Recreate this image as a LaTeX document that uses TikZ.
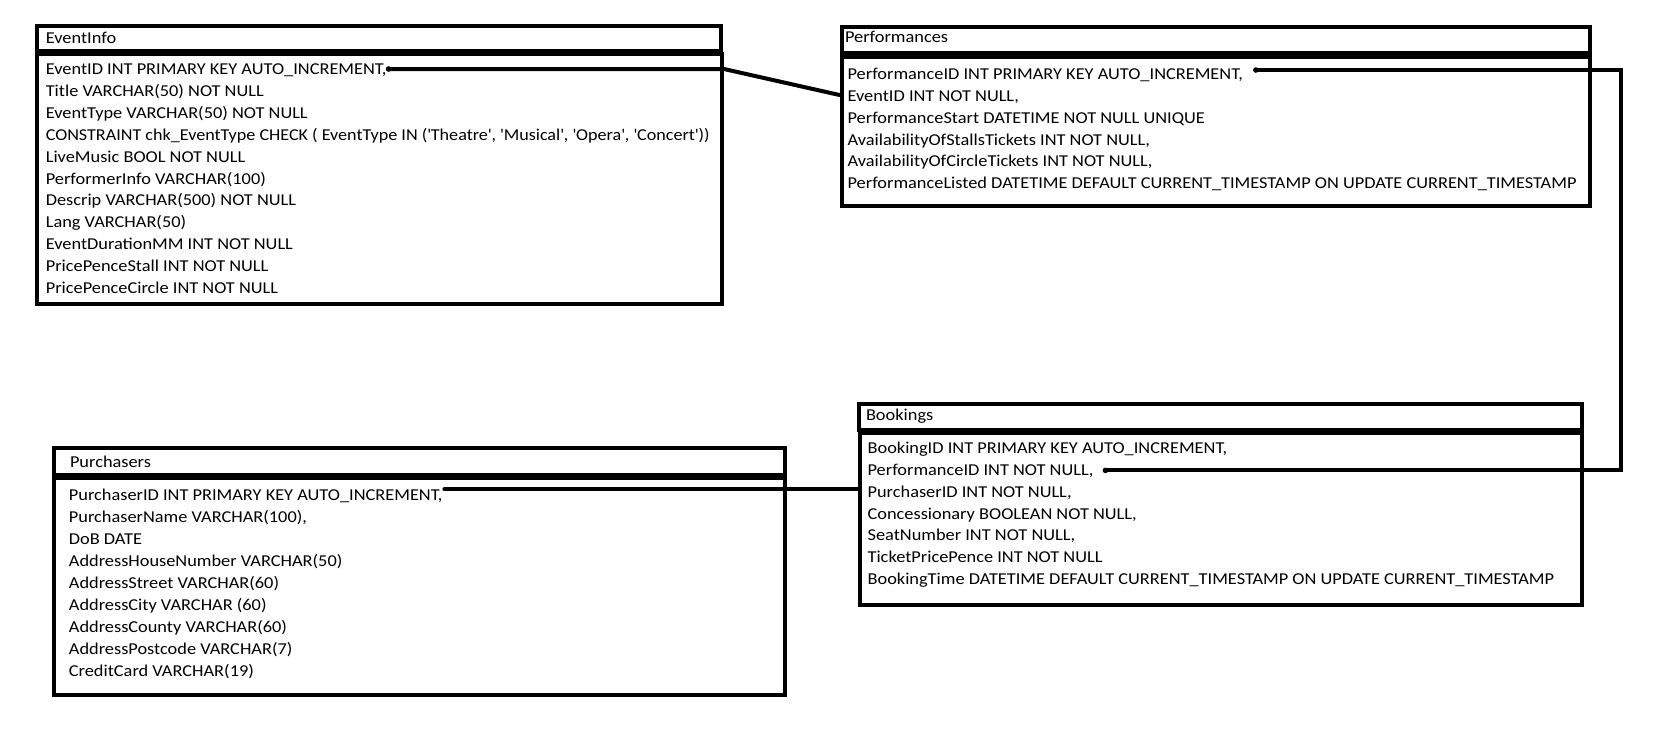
\documentclass[tikz,border=0pt]{standalone}
\usepackage{graphicx}
\usepackage{fontspec}
\setmainfont[FakeStretch=1.105]{Carlito}
\usetikzlibrary{calc}
\begin{document}
\begin{tikzpicture}[x=1pt,y=-1pt,
  tbox/.style={draw=black, line width=4pt, rectangle, inner sep=0pt},
  row/.style={anchor=base west, inner sep=0pt, outer sep=0pt, font=\fontsize{16.6}{20}\selectfont},
  conn/.style={draw=black, line width=4pt, line cap=round, line join=miter}]
\useasboundingbox (0,0) rectangle (1656,740);
% ---- EventInfo
\node[tbox, minimum width=684pt, minimum height=25pt] (eih) at (379,38.5) {};
\node[tbox, minimum width=685pt, minimum height=250pt] (eib) at (379.5,179) {};
\node[row] (eit) at (45.8,43) {EventInfo};
\node[row] (ei1) at (45.8,74.3) {EventID INT PRIMARY KEY AUTO\_INCREMENT,};
\node[row] (ei2) at (45.8,96.2) {Title VARCHAR(50) NOT NULL};
\node[row] (ei3) at (45.8,118.2) {EventType VARCHAR(50) NOT NULL};
\node[row] (ei4) at (45.8,140.1) {\scalebox{0.987}[1]{CONSTRAINT chk\_EventType CHECK ( EventType IN (\textquotesingle Theatre\textquotesingle, \textquotesingle Musical\textquotesingle, \textquotesingle Opera\textquotesingle, \textquotesingle Concert\textquotesingle))}};
\node[row] (ei5) at (45.8,162.0) {LiveMusic BOOL NOT NULL};
\node[row] (ei6) at (45.8,184.0) {PerformerInfo VARCHAR(100)};
\node[row] (ei7) at (45.8,205.9) {Descrip VARCHAR(500) NOT NULL};
\node[row] (ei8) at (45.8,227.8) {Lang VARCHAR(50)};
\node[row] (ei9) at (45.8,249.7) {EventDurationMM INT NOT NULL};
\node[row] (ei10) at (45.8,271.7) {PricePenceStall INT NOT NULL};
\node[row] (ei11) at (45.8,293.6) {PricePenceCircle INT NOT NULL};
% ---- Performances
\node[tbox, minimum width=748.5pt, minimum height=26pt] (pfh) at (1215.75,40) {};
\node[tbox, minimum width=748.5pt, minimum height=149pt] (pfb) at (1215.75,131.5) {};
\node[row] (pft) at (845,42) {Performances};
\node[row] (pf1) at (847.6,79.3) {PerformanceID INT PRIMARY KEY AUTO\_INCREMENT,};
\node[row] (pf2) at (847.6,101.2) {EventID INT NOT NULL,};
\node[row] (pf3) at (847.6,123.1) {PerformanceStart DATETIME NOT NULL UNIQUE};
\node[row] (pf4) at (847.6,145.0) {AvailabilityOfStallsTickets INT NOT NULL,};
\node[row] (pf5) at (847.6,166.9) {AvailabilityOfCircleTickets INT NOT NULL,};
\node[row] (pf6) at (847.6,188.8) {PerformanceListed DATETIME DEFAULT CURRENT\_TIMESTAMP ON UPDATE CURRENT\_TIMESTAMP};
% ---- Bookings
\node[tbox, minimum width=723pt, minimum height=26pt] (bkh) at (1220.5,417) {};
\node[tbox, minimum width=722pt, minimum height=172pt] (bkb) at (1221,519) {};
\node[row] (bkt) at (866,420.3) {Bookings};
\node[row] (bk1) at (867.6,453.6) {BookingID INT PRIMARY KEY AUTO\_INCREMENT,};
\node[row] (bk2) at (867.6,475.4) {PerformanceID INT NOT NULL,};
\node[row] (bk3) at (867.6,497.3) {PurchaserID INT NOT NULL,};
\node[row] (bk4) at (867.6,519.1) {Concessionary BOOLEAN NOT NULL,};
\node[row] (bk5) at (867.6,540.9) {SeatNumber INT NOT NULL,};
\node[row] (bk6) at (867.6,562.8) {TicketPricePence INT NOT NULL};
\node[row] (bk7) at (867.6,584.6) {BookingTime DATETIME DEFAULT CURRENT\_TIMESTAMP ON UPDATE CURRENT\_TIMESTAMP};
% ---- Purchasers
\node[tbox, minimum width=731pt, minimum height=27pt] (puh) at (419.5,461.5) {};
\node[tbox, minimum width=731pt, minimum height=217pt] (pub) at (419.5,586.5) {};
\node[row] (put) at (70,467.3) {Purchasers};
\node[row] (pu1) at (68.9,500.3) {PurchaserID INT PRIMARY KEY AUTO\_INCREMENT,};
\node[row] (pu2) at (68.9,522.3) {PurchaserName VARCHAR(100),};
\node[row] (pu3) at (68.9,544.2) {DoB DATE};
\node[row] (pu4) at (68.9,566.2) {AddressHouseNumber VARCHAR(50)};
\node[row] (pu5) at (68.9,588.1) {AddressStreet VARCHAR(60)};
\node[row] (pu6) at (68.9,610.1) {AddressCity VARCHAR (60)};
\node[row] (pu7) at (68.9,632.1) {AddressCounty VARCHAR(60)};
\node[row] (pu8) at (68.9,654.0) {AddressPostcode VARCHAR(7)};
\node[row] (pu9) at (68.9,676.0) {CreditCard VARCHAR(19)};
% ---- connectors
\coordinate (s1) at ($(ei1.base east)+(2,-5.3)$);
\coordinate (e1) at ($(pf2.base west)+(0,-6.2)$);
\draw[conn] (s1) -- (s1 -| eib.east) -- (e1 -| pfb.west);
\fill (s1) circle (2.8pt);
\coordinate (s2) at ($(pf1.base east)+(13,-9.3)$);
\coordinate (t2) at ($(bk2.base east)+(12,-5)$);
\coordinate (r2) at ($(pfb.east)+(29,0)$);
\draw[conn] (s2) -- (s2 -| r2) -- (r2 |- t2) -- (t2);
\fill (s2) circle (2.8pt);
\fill (t2) circle (2.8pt);
\coordinate (s3) at ($(pu1.base east)+(2,-11)$);
\draw[conn] (s3) -- (s3 -| bkb.west);
\end{tikzpicture}
\end{document}
